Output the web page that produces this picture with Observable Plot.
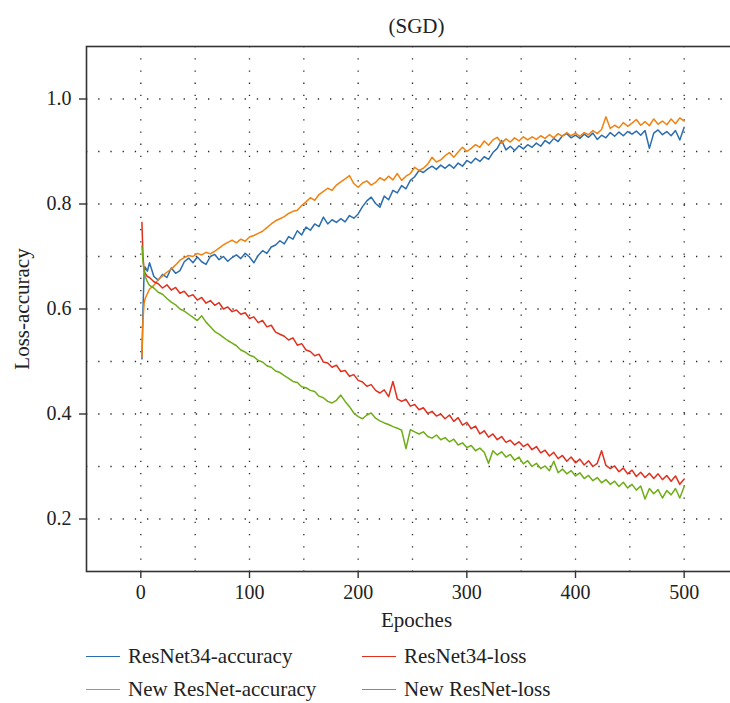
<!DOCTYPE html>
<html>
<head>
<meta charset="utf-8">
<script src="https://cdn.jsdelivr.net/npm/d3@7"></script>
<script src="https://cdn.jsdelivr.net/npm/@observablehq/plot@0.6"></script>
<style>
  html, body { margin: 0; padding: 0; background: #fff; overflow: hidden; }
  #wrap { width: 730px; }
  #legend {
    display: grid;
    grid-template-columns: 276px 300px;
    grid-auto-rows: 33px;
    padding-left: 86px;
    font-family: "Liberation Serif";
    font-size: 21px;
    color: #222;
  }
  .item { display: flex; align-items: center; white-space: nowrap; }
  .swatch { width: 34px; height: 0; border-top: 1.6px solid; margin-right: 8px; }
  svg text { font-family: "Liberation Serif"; }
</style>
</head>
<body>
<div id="wrap"><div id="chart"></div><div id="legend"></div></div>
<script>
const title = "(SGD)";
const xLabel = "Epoches";
const yLabel = "Loss-accuracy";
const seriesNames = ["ResNet34-accuracy", "New ResNet-accuracy", "ResNet34-loss", "New ResNet-loss"];
const seriesColors = ["#2a6db0", "#f2820f", "#e0311f", "#6fad17"];
const xTicks = [0, 100, 200, 300, 400, 500];
const yTicks = [0.2, 0.4, 0.6, 0.8, 1.0];
const xGrid = [0, 50, 100, 150, 200, 250, 300, 350, 400, 450, 500];
const yGrid = [0.2, 0.3, 0.4, 0.5, 0.6, 0.7, 0.8, 0.9, 1.0];

const epochs = [1,2,3,4,6,8,12,16,20,24,28,32,36,40,44,48,52,56,60,64,68,72,76,80,84,88,92,96,100,104,108,112,116,120,124,128,132,136,140,144,148,152,156,160,164,168,172,176,180,184,188,192,196,200,204,208,212,216,220,224,228,232,236,240,244,248,252,256,260,264,268,272,276,280,284,288,292,296,300,304,308,312,316,320,324,328,332,336,340,344,348,352,356,360,364,368,372,376,380,384,388,392,396,400,404,408,412,416,420,424,428,432,436,440,444,448,452,456,460,464,468,472,476,480,484,488,492,496,500];

const resnet34Acc = [0.505,0.600,0.668,0.680,0.672,
0.688,0.662,0.655,0.666,0.660,0.678,0.668,0.673,0.690,0.697,
0.688,0.699,0.690,0.685,0.700,0.704,0.694,0.700,0.691,0.698,
0.703,0.696,0.706,0.699,0.688,0.702,0.711,0.706,0.718,0.722,
0.730,0.724,0.738,0.733,0.749,0.741,0.756,0.750,0.762,0.757,
0.775,0.762,0.770,0.765,0.772,0.766,0.778,0.773,0.781,0.795,
0.806,0.813,0.801,0.794,0.815,0.808,0.826,0.821,0.835,0.829,
0.845,0.852,0.864,0.860,0.867,0.872,0.866,0.874,0.868,0.875,
0.868,0.878,0.872,0.883,0.878,0.887,0.881,0.890,0.885,0.898,
0.906,0.921,0.903,0.910,0.902,0.911,0.905,0.913,0.908,0.916,
0.910,0.921,0.915,0.925,0.919,0.930,0.934,0.926,0.931,0.925,
0.933,0.927,0.935,0.923,0.931,0.926,0.936,0.929,0.937,0.930,
0.938,0.933,0.939,0.931,0.940,0.906,0.935,0.941,0.932,0.938,
0.930,0.940,0.922,0.946];

const newResnetAcc = [0.508,0.580,0.610,0.620,0.629,
0.638,0.645,0.656,0.663,0.670,0.676,0.684,0.693,0.698,0.702,
0.700,0.706,0.703,0.708,0.705,0.710,0.716,0.722,0.727,0.731,
0.726,0.733,0.729,0.737,0.740,0.744,0.748,0.755,0.762,0.768,
0.772,0.776,0.782,0.786,0.788,0.797,0.804,0.812,0.807,0.818,
0.824,0.830,0.826,0.836,0.842,0.848,0.854,0.839,0.832,0.840,
0.844,0.836,0.841,0.850,0.845,0.853,0.846,0.858,0.845,0.853,
0.858,0.870,0.864,0.868,0.876,0.889,0.880,0.884,0.892,0.898,
0.889,0.899,0.908,0.900,0.906,0.913,0.908,0.920,0.912,0.922,
0.927,0.916,0.924,0.918,0.926,0.920,0.928,0.922,0.928,0.923,
0.930,0.925,0.932,0.926,0.934,0.929,0.936,0.930,0.935,0.929,
0.936,0.932,0.940,0.934,0.942,0.966,0.944,0.950,0.945,0.955,
0.948,0.954,0.961,0.950,0.957,0.949,0.962,0.952,0.958,0.951,
0.962,0.953,0.964,0.958];

const resnet34Loss = [0.765,0.700,0.673,0.668,0.662,
0.660,0.652,0.648,0.640,0.646,0.636,0.641,0.630,0.634,0.624,
0.627,0.617,0.622,0.611,0.616,0.607,0.612,0.600,0.604,0.595,
0.598,0.590,0.593,0.582,0.585,0.574,0.578,0.566,0.569,0.556,
0.552,0.548,0.541,0.545,0.531,0.534,0.522,0.519,0.511,0.514,
0.499,0.497,0.489,0.493,0.481,0.483,0.472,0.475,0.464,0.461,
0.453,0.456,0.445,0.440,0.446,0.433,0.462,0.429,0.424,0.428,
0.415,0.418,0.408,0.412,0.401,0.405,0.396,0.400,0.391,0.398,
0.386,0.393,0.379,0.384,0.372,0.377,0.362,0.368,0.356,0.362,
0.351,0.357,0.346,0.350,0.341,0.347,0.338,0.343,0.332,0.338,
0.326,0.331,0.320,0.327,0.315,0.321,0.310,0.318,0.307,0.314,
0.303,0.311,0.300,0.306,0.330,0.302,0.296,0.301,0.290,0.297,
0.286,0.293,0.281,0.289,0.279,0.287,0.277,0.286,0.275,0.283,
0.272,0.282,0.266,0.276];

const newResnetLoss = [0.720,0.690,0.673,0.662,0.652,
0.645,0.640,0.632,0.628,0.620,0.613,0.608,0.600,0.596,0.590,
0.584,0.578,0.587,0.575,0.566,0.557,0.552,0.546,0.540,0.535,
0.530,0.522,0.518,0.512,0.509,0.502,0.499,0.492,0.489,0.482,
0.479,0.473,0.468,0.462,0.460,0.452,0.450,0.445,0.443,0.434,
0.431,0.424,0.421,0.426,0.436,0.424,0.414,0.402,0.395,0.391,
0.398,0.402,0.392,0.387,0.383,0.380,0.376,0.373,0.369,0.334,
0.370,0.366,0.362,0.366,0.357,0.354,0.360,0.351,0.355,0.347,
0.352,0.341,0.345,0.336,0.340,0.330,0.335,0.327,0.306,0.330,
0.322,0.328,0.318,0.323,0.312,0.318,0.305,0.311,0.300,0.306,
0.296,0.301,0.292,0.310,0.288,0.295,0.286,0.292,0.282,0.288,
0.277,0.283,0.273,0.279,0.269,0.275,0.266,0.272,0.262,0.270,
0.259,0.266,0.255,0.263,0.238,0.258,0.248,0.256,0.240,0.254,
0.246,0.258,0.240,0.262];

const seriesValues = [resnet34Acc, newResnetAcc, resnet34Loss, newResnetLoss];

const rows = [];
seriesNames.forEach((name, s) => {
  epochs.forEach((e, i) => {
    const v = seriesValues[s][i];
    if (v !== undefined) rows.push({series: name, epoch: e, value: v});
  });
});

const font = "Liberation Serif";
const ink = "#222";

const chart = Plot.plot({
  width: 730,
  height: 640,
  marginTop: 46,
  marginBottom: 69,
  marginLeft: 86,
  marginRight: -8,
  style: {fontFamily: font, fontSize: "20px", color: ink, background: "#fff"},
  x: {domain: [-50, 550]},
  y: {domain: [0.1, 1.1]},
  color: {domain: seriesNames, range: seriesColors},
  marks: [
    Plot.gridX(xGrid, {stroke: "#111", strokeOpacity: 0.9, strokeWidth: 1.3, strokeDasharray: "1.3,10.9"}),
    Plot.gridY(yGrid, {stroke: "#111", strokeOpacity: 0.9, strokeWidth: 1.3, strokeDasharray: "1.3,10.9"}),
    Plot.line(rows, {x: "epoch", y: "value", z: "series", stroke: "series", strokeWidth: 1.5, strokeLinejoin: "round"}),
    Plot.frame({stroke: "#333", strokeWidth: 1.6}),
    Plot.axisX(xTicks, {tickSize: 7, tickPadding: 6, label: null, stroke: "#333", strokeWidth: 1.4, fontSize: 20, fontFamily: font}),
    Plot.axisY(yTicks, {tickSize: 7, tickPadding: 8, tickFormat: d3.format(".1f"), label: null, stroke: "#333", strokeWidth: 1.4, fontSize: 20, fontFamily: font}),
    Plot.text([title], {frameAnchor: "top", dx: 4, dy: -28, fontSize: 21, fontFamily: font, fill: ink}),
    Plot.text([xLabel], {frameAnchor: "bottom", dx: 4, dy: 55, fontSize: 21, fontFamily: font, fill: ink}),
    Plot.text([yLabel], {frameAnchor: "left", dx: -64, rotate: -90, textAnchor: "middle", fontSize: 21, fontFamily: font, fill: ink})
  ]
});
document.getElementById("chart").appendChild(chart);

const legend = document.getElementById("legend");
const order = [0, 2, 1, 3];
order.forEach(i => {
  const item = document.createElement("div");
  item.className = "item";
  const sw = document.createElement("span");
  sw.className = "swatch";
  sw.style.borderTopColor = seriesColors[i];
  item.appendChild(sw);
  item.appendChild(document.createTextNode(seriesNames[i]));
  legend.appendChild(item);
});
</script>
</body>
</html>
